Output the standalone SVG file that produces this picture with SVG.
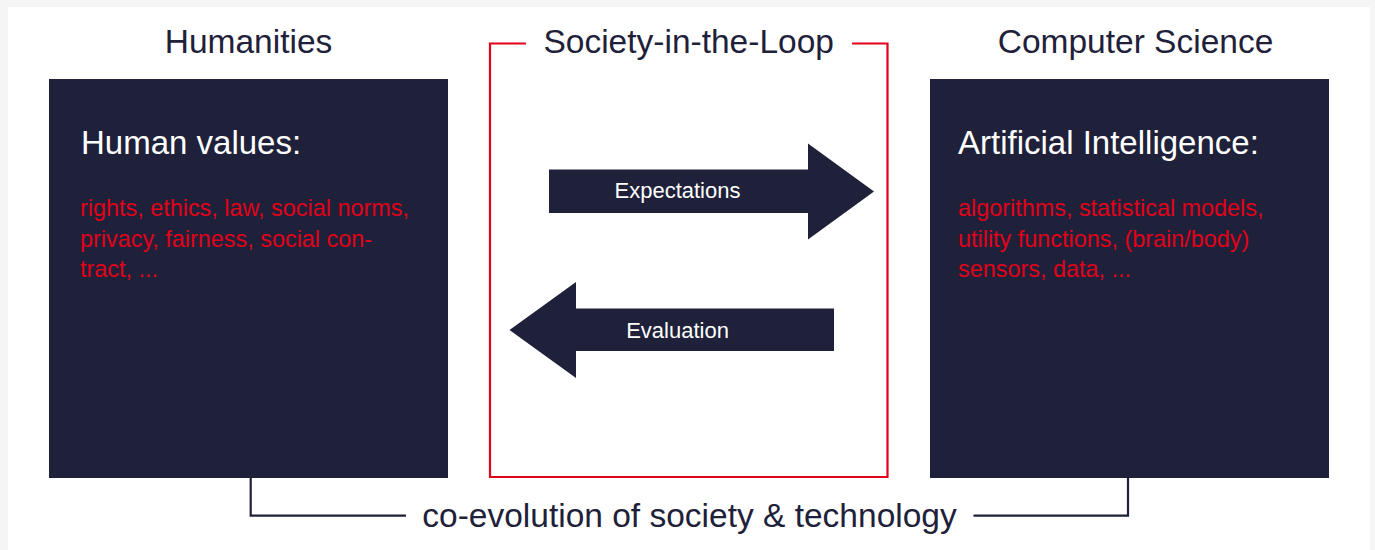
<svg xmlns="http://www.w3.org/2000/svg" width="1375" height="550" viewBox="0 0 1375 550">
<style>
.title{font-family:"Liberation Sans",Arial,sans-serif;font-size:33.5px;fill:#1e2139;text-anchor:middle}
.head{font-family:"Liberation Sans",Arial,sans-serif;font-size:33px;fill:#ffffff}
.items{font-family:"Liberation Sans",Arial,sans-serif;font-size:23.4px;fill:#e2001a}
.lbl{font-family:"Liberation Sans",Arial,sans-serif;font-size:22px;fill:#ffffff;text-anchor:middle}
.box{fill:#1e2139}
.arrow{fill:#1e2139}
.conn{fill:none;stroke:#1e2139;stroke-width:2.2}
.loop{fill:none;stroke:#e2001a;stroke-width:2.2}
</style>
<rect x="0" y="0" width="1375" height="550" fill="#f5f5f5"/>
<rect x="8" y="7" width="1362" height="543" fill="#ffffff"/>
<g id="humanities">
<text class="title" x="248.5" y="53">Humanities</text>
<rect class="box" x="49" y="79" width="399" height="399"/>
<text class="head" x="81" y="154">Human values:</text>
<text class="items" x="80" y="216">rights, ethics, law, social norms,</text>
<text class="items" x="80" y="247">privacy, fairness, social con-</text>
<text class="items" x="80" y="277">tract, ...</text>
</g>
<g id="computer-science">
<text class="title" x="1135.5" y="53">Computer Science</text>
<rect class="box" x="930" y="79" width="399" height="399"/>
<text class="head" x="958" y="154">Artificial Intelligence:</text>
<text class="items" x="958" y="216">algorithms, statistical models,</text>
<text class="items" x="958" y="247">utility functions, (brain/body)</text>
<text class="items" x="958" y="277">sensors, data, ...</text>
</g>
<g id="society-in-the-loop">
<path class="loop" d="M526,43.5 H490 V477 H887.5 V43.5 H852"/>
<text class="title" x="688.7" y="53">Society-in-the-Loop</text>
</g>
<g id="expectations">
<polygon class="arrow" points="549,169.5 808,169.5 808,143.5 874,191.5 808,239.5 808,213 549,213"/>
<text class="lbl" x="677.5" y="198">Expectations</text>
</g>
<g id="evaluation">
<polygon class="arrow" points="834,308.5 576,308.5 576,282 509.5,330 576,378 576,351 834,351"/>
<text class="lbl" x="677.5" y="338">Evaluation</text>
</g>
<g id="connectors">
<path class="conn" d="M250.7,478 V515.7 H406"/>
<path class="conn" d="M973.5,515.7 H1128 V478"/>
<text class="title" x="689.5" y="527">co-evolution of society &amp; technology</text>
</g>
</svg>
